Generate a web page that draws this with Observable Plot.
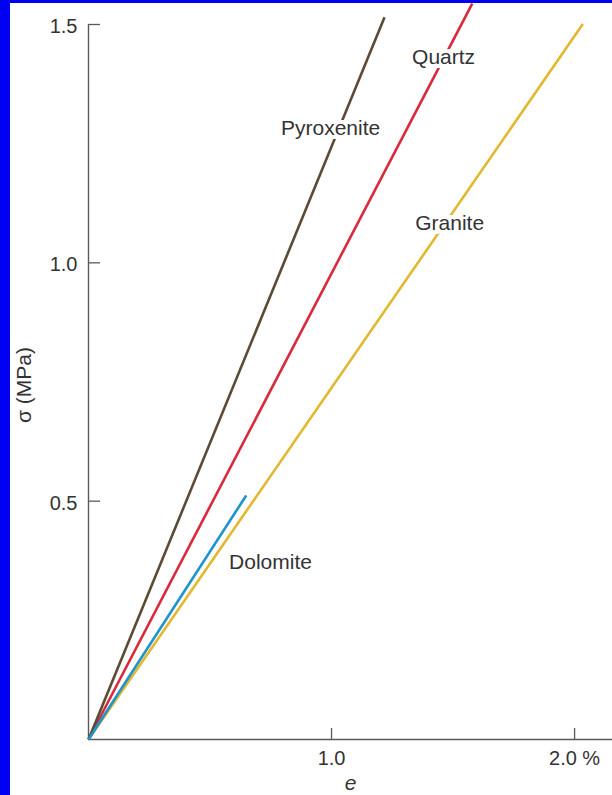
<!DOCTYPE html>
<html>
<head>
<meta charset="utf-8">
<script src="https://cdn.jsdelivr.net/npm/d3@7"></script>
<script src="https://cdn.jsdelivr.net/npm/@observablehq/plot@0.6"></script>
<style>
  html, body { margin: 0; padding: 0; background: #0000f5; width: 612px; height: 795px; overflow: hidden; }
  #wrap { position: absolute; left: 10px; top: 3px; width: 602px; height: 792px; background: #ffffff; overflow: hidden; }
  #wrap svg { display: block; }
</style>
</head>
<body>
<div id="wrap"></div>
<script>
// ---- data ----
const materials = ["Granite", "Quartz", "Pyroxenite", "Dolomite"];
const strainEnd = [2.034, 1.579, 1.218, 0.649];   // e (%)
const stressEnd = [1.501, 1.544, 1.515, 0.512];   // sigma (MPa)
const lineColors = ["#e2b830", "#d92a3c", "#5b4a34", "#1f93cd"];

const labelNames = ["Pyroxenite", "Quartz", "Granite", "Dolomite"];
const labelX = [0.996, 1.461, 1.486, 0.749];
const labelY = [1.282, 1.431, 1.082, 0.371];

const xTicks = [1.0, 2.0];
const xTickLabels = ["1.0", "2.0 %"];
const yTicks = [0.5, 1.0, 1.5];
const yTickLabels = ["0.5", "1.0", "1.5"];
const xTitle = "e";
const yTitle = "σ (MPa)";

const xMax = 2.156;
const yMax = 1.5;

const segs = materials.map((m, i) => ({name: m, x2: strainEnd[i], y2: stressEnd[i], color: lineColors[i]}));
const labels = labelNames.map((n, i) => ({name: n, x: labelX[i], y: labelY[i]}));

const axisColor = "#5a5a5a";
const textColor = "#333333";
const font = "'Liberation Sans', Arial, Helvetica, sans-serif";

const chart = Plot.plot({
  width: 602,
  height: 792,
  marginLeft: 78,
  marginRight: 0,
  marginTop: 21,
  marginBottom: 56,
  style: {fontFamily: font, background: "white", overflow: "visible"},
  x: {domain: [0, xMax]},
  y: {domain: [0, yMax]},
  marks: [
    // tick marks (inward)
    Plot.axisY({ticks: yTicks, tickSize: 12, dx: 12, tickFormat: () => "", label: null, stroke: axisColor, strokeWidth: 1.3}),
    Plot.axisX({ticks: xTicks, tickSize: 11, dy: -11, tickFormat: () => "", label: null, stroke: axisColor, strokeWidth: 1.3}),
    // tick labels
    Plot.axisY({ticks: yTicks, tickSize: 0, tickPadding: 11, dy: 2, tickFormat: (d) => yTickLabels[yTicks.indexOf(d)], label: null, fontSize: 20, fill: textColor}),
    Plot.axisX({ticks: xTicks, tickSize: 0, tickPadding: 11, tickFormat: (d) => xTickLabels[xTicks.indexOf(d)], label: null, fontSize: 20, fill: textColor}),
    // axis lines
    Plot.ruleX([0], {y1: 0, y2: yMax, stroke: axisColor, strokeWidth: 1.4}),
    Plot.ruleY([0], {x1: 0, x2: xMax, stroke: axisColor, strokeWidth: 1.4}),
    // curves
    Plot.link(segs, {x1: 0, y1: 0, x2: "x2", y2: "y2", stroke: "color", strokeWidth: 2.6}),
    // labels
    Plot.text(labels, {x: "x", y: "y", text: "name", fontSize: 21, fill: textColor, stroke: "white", strokeWidth: 8, strokeLinejoin: "miter"}),
    // axis titles
    Plot.text([yTitle], {frameAnchor: "left", textAnchor: "middle", rotate: -90, dx: -64, dy: 3, fontSize: 21, fill: textColor}),
    Plot.text([xTitle], {frameAnchor: "bottom", lineAnchor: "top", dy: 36, fontSize: 21, fontStyle: "italic", fill: textColor})
  ]
});

document.getElementById("wrap").appendChild(chart);
</script>
</body>
</html>
